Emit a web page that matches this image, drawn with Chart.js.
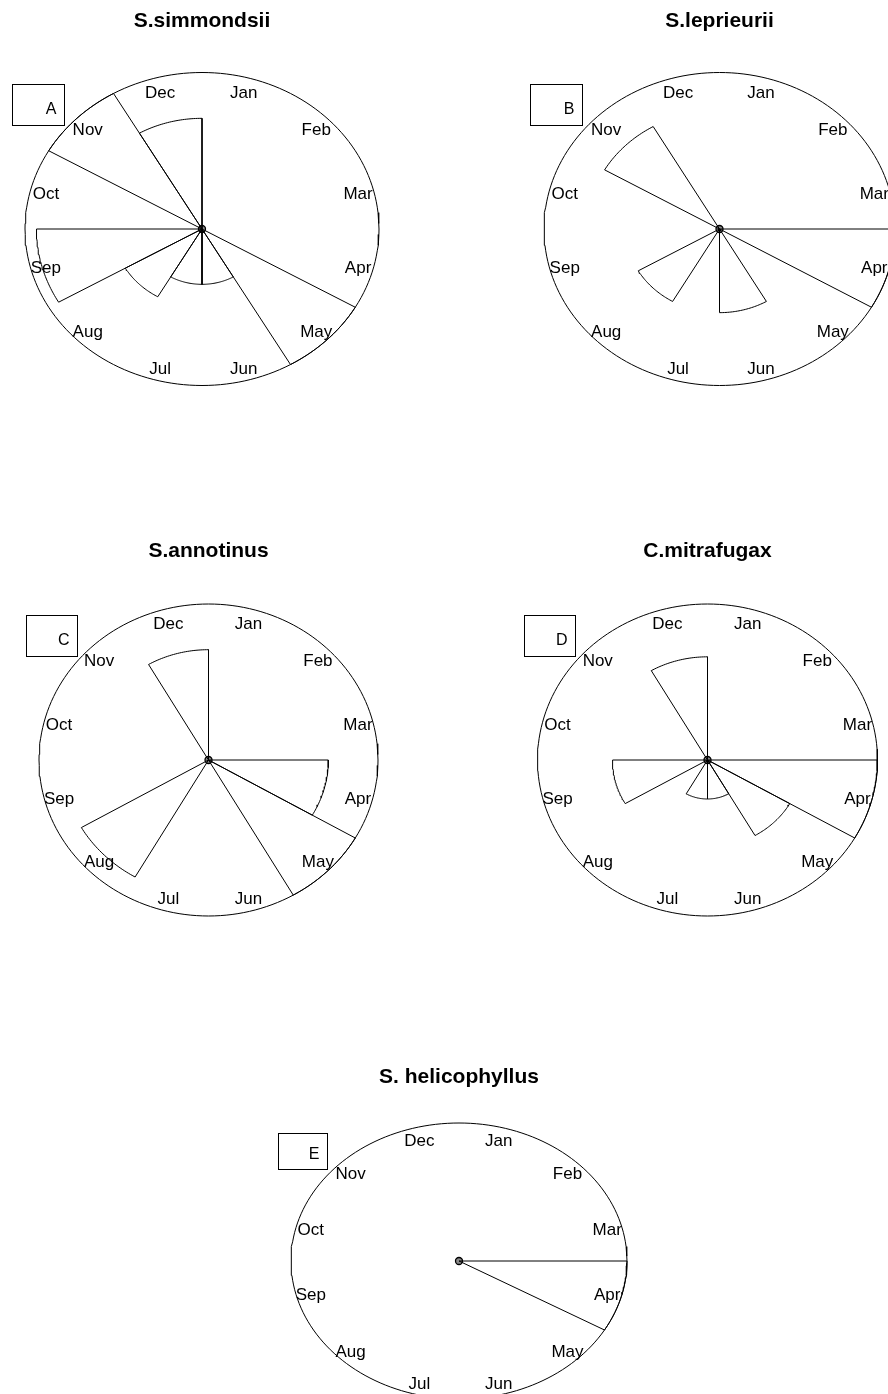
<!DOCTYPE html>
<html>
<head>
<meta charset="utf-8">
<title>Monthly rose diagrams</title>
<script src="https://cdn.jsdelivr.net/npm/chart.js@4.4.1/dist/chart.umd.min.js"></script>
<style>
  html, body { margin: 0; padding: 0; background: #ffffff; }
  #wrap { position: relative; width: 888px; height: 1394px; overflow: hidden; }
  canvas { display: block; }
</style>
</head>
<body>
<div id="wrap"><canvas id="rose" width="888" height="1394"></canvas></div>
<script>
// Month names, clockwise from the top of each dial
const MONTHS = ['Jan', 'Feb', 'Mar', 'Apr', 'May', 'Jun', 'Jul', 'Aug', 'Sep', 'Oct', 'Nov', 'Dec'];

// Species shown in each panel and the panel tags
const SPECIES = ['S.simmondsii', 'S.leprieurii', 'S.annotinus', 'C.mitrafugax', 'S. helicophyllus'];
const PANEL_TAGS = ['A', 'B', 'C', 'D', 'E'];

// Observations per month (Jan..Dec) for each species
const simmondsiiCounts    = [0, 0, 0, 0, 8, 1, 1, 2, 7, 0, 8, 4];
const leprieuriiCounts    = [0, 0, 0, 7, 0, 2, 0, 2, 0, 0, 4, 0];
const annotinusCounts     = [0, 0, 0, 2, 4, 0, 0, 3, 0, 0, 0, 2];
const mitrafugaxCounts    = [0, 0, 0, 16, 5, 1, 1, 0, 5, 0, 0, 7];
const helicophyllusCounts = [0, 0, 0, 1, 0, 0, 0, 0, 0, 0, 0, 0];

const COUNTS = [simmondsiiCounts, leprieuriiCounts, annotinusCounts, mitrafugaxCounts, helicophyllusCounts];

// Page layout of each dial (pixels): centre, half-axes, title baseline, tag box
const LAYOUT = [
  { cx: 202,   cy: 229,  rx: 177,   ry: 156.5, titleY: 27,   box: [12.5, 84.5, 52, 41] },
  { cx: 719.5, cy: 229,  rx: 175.5, ry: 156.5, titleY: 27,   box: [530.5, 84.5, 52, 41] },
  { cx: 208.5, cy: 760,  rx: 169.5, ry: 156,   titleY: 557,  box: [26.5, 615.5, 51, 41] },
  { cx: 707.5, cy: 760,  rx: 170,   ry: 156,   titleY: 557,  box: [524.5, 615.5, 51, 41] },
  { cx: 459,   cy: 1261, rx: 168,   ry: 138,   titleY: 1083, box: [278.5, 1133.5, 49, 36] }
];

const W = 888, H = 1394;
const FONT = '"Liberation Sans", Arial, Helvetica, sans-serif';
const LABEL_R = 0.913;

// polar (compass angle in degrees, radius) -> unit-dial coordinates
function polar(deg, r) {
  const a = deg * Math.PI / 180;
  return { x: r * Math.sin(a), y: r * Math.cos(a) };
}

const scales = {};
const datasets = [];

LAYOUT.forEach((p, i) => {
  const xMin = -1 - (p.cx - p.rx) / p.rx;
  const yMax = 1 + (p.cy - p.ry) / p.ry;
  scales['x' + i] = { type: 'linear', display: false, min: xMin, max: xMin + W / p.rx };
  scales['y' + i] = { type: 'linear', display: false, min: yMax - H / p.ry, max: yMax };

  const common = {
    xAxisID: 'x' + i, yAxisID: 'y' + i,
    showLine: true, fill: false, tension: 0,
    borderColor: '#000000', borderWidth: 1,
    pointRadius: 0, pointHoverRadius: 0, clip: false
  };

  // outer dial
  const ring = [];
  for (let d = 0; d <= 360; d += 2) ring.push(polar(d, 1));
  datasets.push(Object.assign({ label: 'dial' + i, data: ring }, common));

  // one wedge per month, radius on a square-root scale of the count
  const counts = COUNTS[i];
  const maxCount = Math.max(...counts);
  counts.forEach((n, m) => {
    if (n <= 0) return;
    const r = Math.sqrt(n / maxCount);
    const pts = [{ x: 0, y: 0 }];
    for (let d = m * 30; d <= m * 30 + 30; d += 1) pts.push(polar(d, r));
    pts.push({ x: 0, y: 0 });
    datasets.push(Object.assign({ label: SPECIES[i] + ' ' + MONTHS[m], data: pts }, common));
  });

  // centre marker
  datasets.push({
    label: 'centre' + i, data: [{ x: 0, y: 0 }],
    xAxisID: 'x' + i, yAxisID: 'y' + i, showLine: false,
    pointRadius: 3.5, pointHoverRadius: 3.5, pointStyle: 'circle',
    borderColor: '#000000', borderWidth: 1.3, backgroundColor: 'rgba(40,40,40,0.55)', clip: false
  });
});

// titles, month names and tag boxes
const dialText = {
  id: 'dialText',
  afterDatasetsDraw(chart) {
    const ctx = chart.ctx;
    ctx.save();
    ctx.fillStyle = '#000000';
    LAYOUT.forEach((p, i) => {
      const xs = chart.scales['x' + i], ys = chart.scales['y' + i];

      ctx.font = 'bold 21px ' + FONT;
      ctx.textAlign = 'center';
      ctx.textBaseline = 'alphabetic';
      ctx.fillText(SPECIES[i], xs.getPixelForValue(0), p.titleY);

      ctx.font = '17px ' + FONT;
      ctx.textBaseline = 'middle';
      MONTHS.forEach((name, m) => {
        const pt = polar(m * 30 + 15, LABEL_R);
        ctx.fillText(name, xs.getPixelForValue(pt.x), ys.getPixelForValue(pt.y) + 2);
      });

      const [bx, by, bw, bh] = p.box;
      ctx.strokeStyle = '#000000';
      ctx.lineWidth = 1;
      ctx.strokeRect(bx, by, bw, bh);
      ctx.font = '16px ' + FONT;
      ctx.textAlign = 'right';
      ctx.textBaseline = 'alphabetic';
      ctx.fillText(PANEL_TAGS[i], bx + bw - 8, by + bh * 0.72);
    });
    ctx.restore();
  }
};

new Chart(document.getElementById('rose'), {
  type: 'scatter',
  data: { datasets },
  options: {
    responsive: false,
    animation: false,
    devicePixelRatio: 1,
    layout: { padding: 0, autoPadding: false },
    scales,
    plugins: { legend: { display: false }, title: { display: false }, tooltip: { enabled: false } },
    events: []
  },
  plugins: [dialText]
});
</script>
</body>
</html>
